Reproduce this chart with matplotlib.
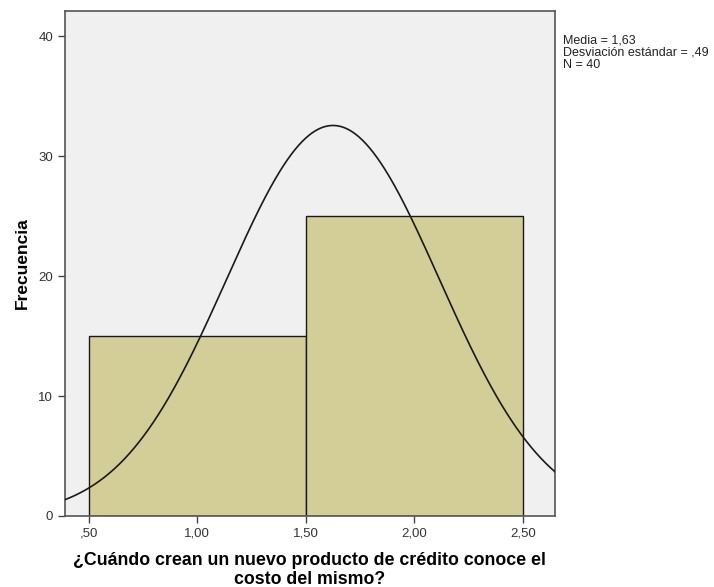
import numpy as np
import matplotlib.pyplot as plt

plt.rcParams["font.family"] = ["Liberation Sans", "DejaVu Sans"]

# histogram data
bin_edges = [0.5, 1.5, 2.5]
counts = [15, 25]
media = 1.63
desv = 0.49
n_total = 40
x_ticks = [0.5, 1.0, 1.5, 2.0, 2.5]
x_tick_labels = [",50", "1,00", "1,50", "2,00", "2,50"]
y_ticks = [0, 10, 20, 30, 40]

fig = plt.figure(figsize=(7.14, 5.87), dpi=100)
ax = fig.add_axes([0.091, 0.121, 0.686, 0.860])
ax.set_facecolor("#F0F0F0")

widths = np.diff(bin_edges)
ax.bar(bin_edges[:-1], counts, width=widths, align="edge",
       color="#D3CE98", edgecolor="#1a1a1a", linewidth=1.0, zorder=2)

# normal curve scaled to counts
mu = float(np.dot(counts, np.array(bin_edges[:-1]) + widths / 2)) / n_total
xs = np.linspace(0.39, 2.65, 400)
bw = widths[0]
ys = n_total * bw / (desv * np.sqrt(2 * np.pi)) * np.exp(-0.5 * ((xs - mu) / desv) ** 2)
ax.plot(xs, ys, color="#1a1a1a", linewidth=1.2, zorder=3)

ax.set_xlim(0.39, 2.647)
ax.set_ylim(0, 42.1)
ax.set_xticks(x_ticks)
ax.set_xticklabels(x_tick_labels)
ax.set_yticks(y_ticks)
ax.tick_params(axis="both", direction="out", length=5, width=1,
               color="#444444", labelcolor="#333333", labelsize=9.5)
for s in ax.spines.values():
    s.set_color("#555555")
    s.set_linewidth(1.2)

ax.set_ylabel("Frecuencia", fontsize=12.5, fontweight="bold", labelpad=6)
ax.set_xlabel("¿Cuándo crean un nuevo producto de crédito conoce el\ncosto del mismo?",
              fontsize=12.8, fontweight="bold", labelpad=9, linespacing=1.1)

fig.text(0.789, 0.942, "Media = 1,63\nDesviación estándar = ,49\nN = 40",
         fontsize=9, va="top", ha="left", color="#222222", linespacing=1.05)

fig.savefig("out.png", dpi=100)
